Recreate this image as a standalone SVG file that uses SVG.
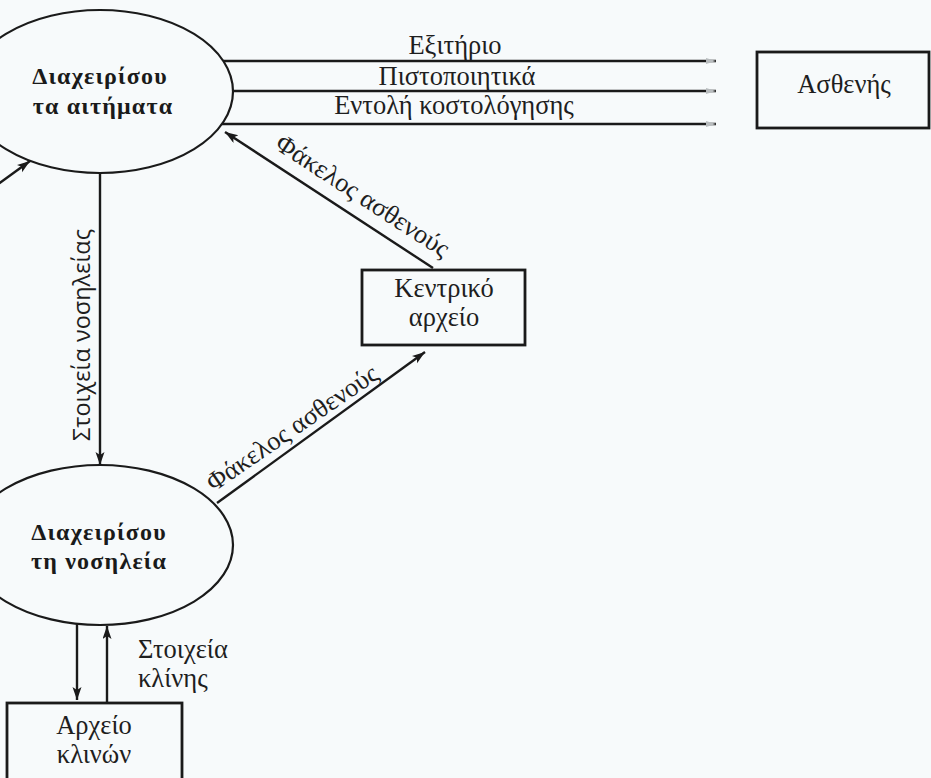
<svg xmlns="http://www.w3.org/2000/svg" width="931" height="778" viewBox="0 0 931 778">
  <defs>
    <marker id="arrow" markerUnits="userSpaceOnUse" markerWidth="14" markerHeight="10" refX="13" refY="4.5" orient="auto">
      <path d="M0,0 L13,4.5 L0,9 L3,4.5 z" fill="#1a1a1a"/>
    </marker>
    <marker id="arrowFaint" markerUnits="userSpaceOnUse" markerWidth="12" markerHeight="8" refX="10" refY="3" orient="auto">
      <path d="M0,0 L10,3 L0,6 z" fill="#b8bcbe"/>
    </marker>
    <style>
      .shape { fill: none; stroke: #1a1a1a; stroke-width: 2.2; }
      .box { fill: none; stroke: #1a1a1a; stroke-width: 2.8; }
      .flow { fill: none; stroke: #1a1a1a; stroke-width: 2.4; }
      .label { font-family: "Liberation Serif", "Times New Roman", serif; font-size: 26.5px; fill: #1e1e1e; }
      .title { font-family: "Liberation Serif", "Times New Roman", serif; font-size: 24px; font-weight: bold; letter-spacing: 1.2px; fill: #1a1a1a; text-anchor: middle; }
      .sans { font-family: "Open Sans", "DejaVu Sans", sans-serif; font-size: 23.5px; fill: #1e1e1e; }
      .mid { text-anchor: middle; }
    </style>
  </defs>

  <rect x="0" y="0" width="931" height="778" fill="#f7fafb"/>

  <!-- processes -->
  <g id="handle-requests">
    <ellipse class="shape" cx="100" cy="91.5" rx="133" ry="81.5"/>
    <text class="title" x="100" y="84">Διαχειρίσου</text>
    <text class="title" x="103" y="114">τα αιτήματα</text>
  </g>

  <g id="handle-stay">
    <ellipse class="shape" cx="100" cy="545" rx="133" ry="80"/>
    <text class="title" x="99" y="540">Διαχειρίσου</text>
    <text class="title" x="99" y="569">τη νοσηλεία</text>
  </g>

  <!-- external entity and stores -->
  <g id="patient">
    <rect class="box" x="757" y="52" width="172" height="76"/>
    <text class="label mid" x="844" y="93">Ασθενής</text>
  </g>

  <g id="central-archive">
    <rect class="box" x="362" y="270" width="163" height="75"/>
    <text class="label mid" x="444" y="297">Κεντρικό</text>
    <text class="label mid" x="444" y="326">αρχείο</text>
  </g>

  <g id="bed-archive">
    <rect class="box" x="7" y="703" width="175" height="95"/>
    <text class="label mid" x="94" y="734">Αρχείο</text>
    <text class="label mid" x="94" y="763">κλινών</text>
  </g>

  <!-- data flows -->
  <g id="connectors">
    <line class="flow" x1="223" y1="61" x2="716" y2="61" marker-end="url(#arrowFaint)"/>
    <line class="flow" x1="233" y1="91" x2="716" y2="91" marker-end="url(#arrowFaint)"/>
    <line class="flow" x1="222" y1="124" x2="716" y2="124" marker-end="url(#arrowFaint)"/>
    <text class="label mid" x="455" y="54">Εξιτήριο</text>
    <text class="label mid" x="457" y="85">Πιστοποιητικά</text>
    <text class="label mid" x="454" y="114">Εντολή κοστολόγησης</text>

    <line class="flow" x1="433" y1="268" x2="225" y2="132" marker-end="url(#arrow)"/>
    <text class="label mid" transform="translate(358 203) rotate(33.2)">Φάκελος ασθενούς</text>

    <line class="flow" x1="217" y1="503" x2="425" y2="352" marker-end="url(#arrow)"/>
    <text class="label mid" transform="translate(297 435) rotate(-34.5)">Φάκελος ασθενούς</text>

    <line class="flow" x1="100" y1="173" x2="100" y2="465" marker-end="url(#arrow)"/>
    <text class="sans mid" transform="translate(90 335) rotate(-90)">Στοιχεία νοσηλείας</text>

    <line class="flow" x1="-10" y1="190" x2="30" y2="161" marker-end="url(#arrow)"/>

    <line class="flow" x1="77" y1="624" x2="77" y2="700" marker-end="url(#arrow)"/>
    <line class="flow" x1="107" y1="703" x2="107" y2="626" marker-end="url(#arrow)"/>
    <text class="label" x="138" y="658">Στοιχεία</text>
    <text class="label" x="138" y="687">κλίνης</text>
  </g>
</svg>
